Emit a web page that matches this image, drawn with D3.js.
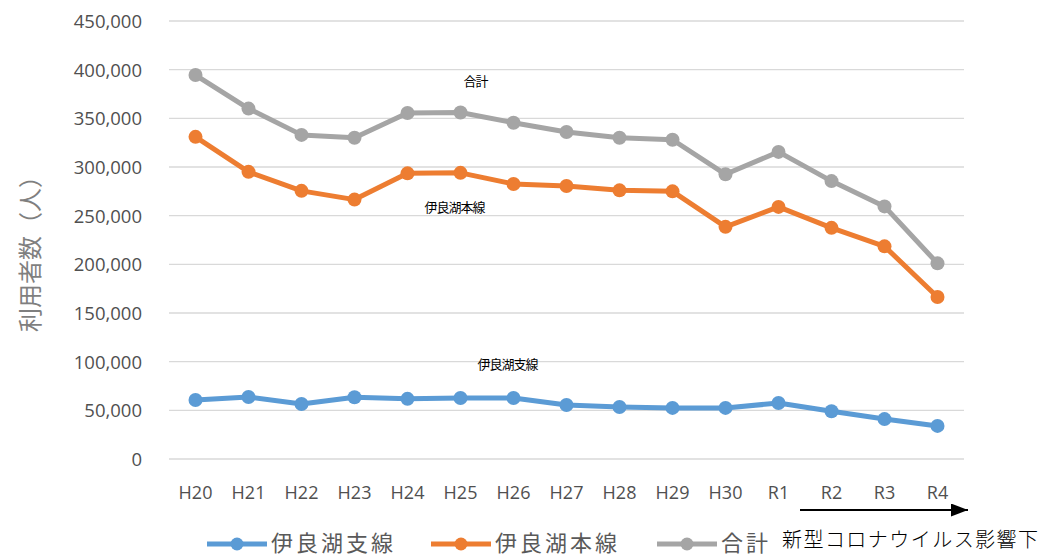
<!DOCTYPE html>
<html><head><meta charset="utf-8">
<script src="https://cdn.jsdelivr.net/npm/d3@7"></script>
<style>body{margin:0;background:#fff}svg{display:block}</style>
</head><body><svg id="c" width="1055" height="557"></svg>
<script>
const categories = ["H20","H21","H22","H23","H24","H25","H26","H27","H28","H29","H30","R1","R2","R3","R4"];
const branchLine = [60600,63700,56500,63500,61800,62700,62700,55500,53500,52500,52500,57500,49000,41000,34000];
const mainLine   = [331000,295000,275500,266500,293500,294000,282500,280500,276000,275000,238500,259000,237500,218500,166500];
const totalLine  = [394500,360000,333000,330000,355500,356000,345500,336000,330000,328000,292500,315500,285500,259500,201000];
const seriesNames = ["伊良湖支線","伊良湖本線","合計"];
const seriesColors = ["#5B9BD5","#ED7D31","#A5A5A5"];
const yTicks = [0,50000,100000,150000,200000,250000,300000,350000,400000,450000];
const yTitle = "利用者数（人）";
const annotation = "新型コロナウイルス影響下";

const svg = d3.select("#c");
const m = {left:169, right:1055-964, top:21, bottom:557-459};
const W = 1055, H = 557;
const x = d3.scaleBand().domain(categories).range([m.left, W-m.right]);
const y = d3.scaleLinear().domain([0,450000]).range([H-m.bottom, m.top]);
const font = "'Noto Sans CJK JP','Noto Sans',sans-serif";
const numFont = "'Open Sans','DejaVu Sans',sans-serif";

// gridlines
svg.append("g").selectAll("line").data(yTicks).join("line")
  .attr("x1", m.left).attr("x2", W-m.right)
  .attr("y1", d=>y(d)).attr("y2", d=>y(d))
  .attr("stroke","#d9d9d9").attr("stroke-width",1.3);

// y axis labels
const yAxis = svg.append("g").attr("transform",`translate(${m.left-24},0)`)
  .call(d3.axisLeft(y).tickValues(yTicks).tickFormat(d3.format(",")).tickSize(0));
yAxis.select(".domain").remove();
yAxis.selectAll("text").attr("font-family",numFont).attr("font-size",18.5).attr("fill","#505050").attr("dy","0.35em");

// x axis labels
const xAxis = svg.append("g").attr("transform",`translate(0,${H-m.bottom+24})`)
  .call(d3.axisBottom(x).tickSize(0));
xAxis.select(".domain").remove();
xAxis.selectAll("text").attr("font-family",numFont).attr("font-size",18).attr("fill","#505050").attr("dy","0.7em");

// y title
svg.append("text").attr("transform","translate(39,248) rotate(-90)")
  .attr("text-anchor","middle").attr("font-family",font).attr("font-size",24)
  .attr("fill","#7f7f7f").text(yTitle);

const allSeries = [branchLine, mainLine, totalLine];
const line = d3.line().x((d,i)=>x(categories[i])+x.bandwidth()/2).y(d=>y(d));
[2,1,0].forEach(si=>{
  const g = svg.append("g");
  g.append("path").datum(allSeries[si]).attr("d",line).attr("fill","none")
    .attr("stroke",seriesColors[si]).attr("stroke-width",5).attr("stroke-linejoin","round");
  g.selectAll("circle").data(allSeries[si]).join("circle")
    .attr("cx",(d,i)=>x(categories[i])+x.bandwidth()/2).attr("cy",d=>y(d)).attr("r",7)
    .attr("fill",seriesColors[si]);
});

// in-chart labels
svg.append("text").attr("x",x("H25")+x.bandwidth()/2+15).attr("y",y(400000)+16).attr("text-anchor","middle")
  .attr("font-family",font).attr("font-size",13).attr("fill","#000").attr("letter-spacing","-1").text(seriesNames[2]);
svg.append("text").attr("x",x("H25")+x.bandwidth()/2-6).attr("y",y(250000)-4).attr("text-anchor","middle")
  .attr("font-family",font).attr("font-size",13).attr("fill","#000").attr("letter-spacing","-1").text(seriesNames[1]);
svg.append("text").attr("x",x("H27")+x.bandwidth()/2-59).attr("y",y(100000)+7).attr("text-anchor","middle")
  .attr("font-family",font).attr("font-size",13).attr("fill","#000").attr("letter-spacing","-1").text(seriesNames[0]);

// legend
const legX = [207, 431, 657];
seriesNames.forEach((n,i)=>{
  const g = svg.append("g").attr("transform",`translate(${legX[i]},544)`);
  g.append("line").attr("x1",0).attr("x2",60).attr("stroke",seriesColors[i]).attr("stroke-width",5);
  g.append("circle").attr("cx",30).attr("r",6.5).attr("fill",seriesColors[i]);
  g.append("text").attr("x",64).attr("y",-1).attr("dy","0.35em").attr("font-family",font).attr("font-size",22)
    .attr("letter-spacing","3").attr("fill","#595959").text(n);
});

// annotation arrow
const defs = svg.append("defs");
defs.append("marker").attr("id","ah").attr("viewBox","0 0 10 10").attr("refX",10).attr("refY",5)
  .attr("markerWidth",17).attr("markerHeight",13).attr("markerUnits","userSpaceOnUse").attr("orient","auto")
  .attr("preserveAspectRatio","none")
  .append("path").attr("d","M0,0L10,5L0,10z").attr("fill","#000");
svg.append("line").attr("x1",800).attr("x2",968).attr("y1",510).attr("y2",510)
  .attr("stroke","#000").attr("stroke-width",2).attr("marker-end","url(#ah)");
svg.append("text").attr("x",782).attr("y",540).attr("dy","0.35em").attr("font-family",font)
  .attr("font-size",20).attr("font-weight",300).attr("fill","#000").attr("textLength",256).text(annotation);
</script></body></html>
